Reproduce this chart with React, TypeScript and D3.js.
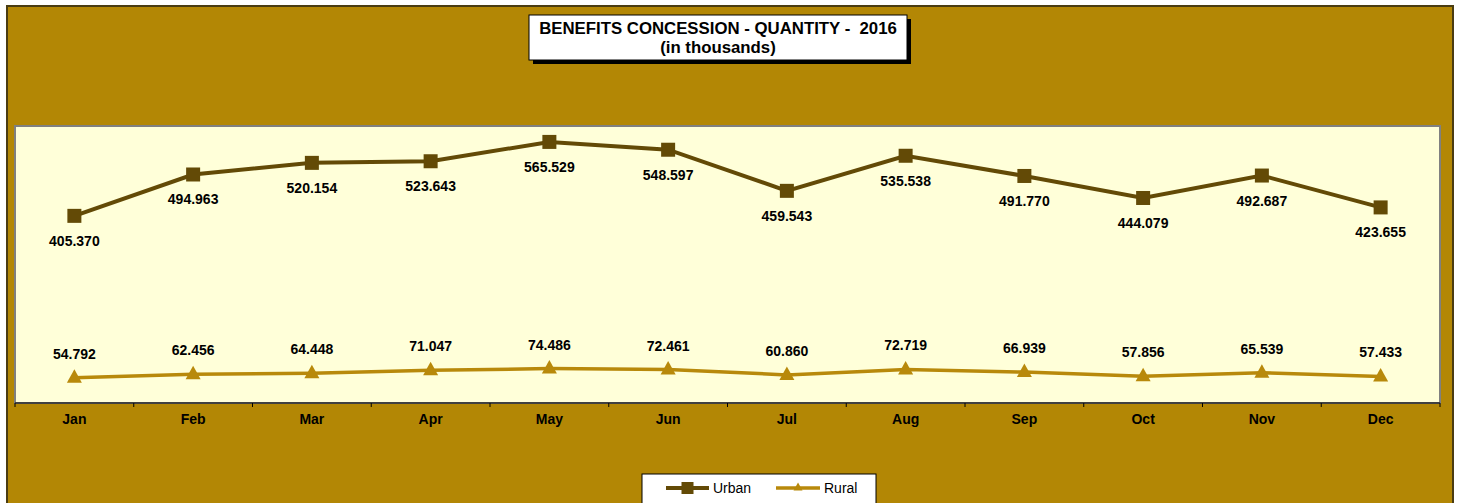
import React from "react";
import * as d3 from "d3";

const months = ["Jan","Feb","Mar","Apr","May","Jun","Jul","Aug","Sep","Oct","Nov","Dec"];
const urban = [405.370,494.963,520.154,523.643,565.529,548.597,459.543,535.538,491.770,444.079,492.687,423.655];
const rural = [54.792,62.456,64.448,71.047,74.486,72.461,60.860,72.719,66.939,57.856,65.539,57.433];
const titleLines = ["BENEFITS CONCESSION - QUANTITY -  2016", "(in thousands)"];

const W = 1459, H = 503;
const plot = { x0: 15, x1: 1440, y0: 126, y1: 403 };
const bg = "#B38705";
const urbanColor = "#634A06";
const ruralColor = "#B8890B";
const font = "Arial, 'Liberation Sans', sans-serif";

export default function App() {
  const x = d3.scaleBand<string>().domain(months).range([plot.x0, plot.x1]);
  const y = d3.scaleLinear().domain([0, 600]).range([plot.y1, plot.y0]);
  const cx = (m: string) => (x(m) as number) + x.bandwidth() / 2;
  const line = d3.line<number>().x((_, i) => cx(months[i])).y(d => y(d));
  const fmt = d3.format(".3f");
  const ticks = d3.range(months.length + 1).map(i => plot.x0 + i * x.bandwidth());
  const tri = (px: number, py: number, s = 7.5) => `M${px},${py - s} L${px + s},${py + s * 0.8} L${px - s},${py + s * 0.8} Z`;

  return (
    <svg width={W} height={H} style={{ position: "absolute", left: 0, top: 0, display: "block" }} fontFamily={font}>
      <rect x={0} y={0} width={W} height={H} fill="#fff" />
      <rect x={7} y={6} width={1446} height={510} fill={bg} stroke="#4A3C12" strokeWidth={2} />
      {/* title */}
      <rect x={533} y={19} width={378} height={45} fill="#000" />
      <rect x={529} y={15} width={378} height={45} fill="#fff" stroke="#000" strokeWidth={1} />
      <text x={718} y={33.5} textAnchor="middle" fontSize={16.8} fontWeight="bold" fill="#000" style={{ whiteSpace: "pre" }}>{titleLines[0]}</text>
      <text x={718} y={52.5} textAnchor="middle" fontSize={16.8} fontWeight="bold" fill="#000">{titleLines[1]}</text>
      {/* plot area */}
      <rect x={plot.x0} y={plot.y0} width={plot.x1 - plot.x0} height={plot.y1 - plot.y0} fill="#FFFFD9" stroke="#808080" strokeWidth={2} />
      <line x1={plot.x0} x2={plot.x1} y1={plot.y1} y2={plot.y1} stroke="#000" strokeWidth={1} />
      {ticks.map((t, i) => (
        <line key={i} x1={t} x2={t} y1={plot.y1} y2={plot.y1 + 4} stroke="#000" strokeWidth={1} />
      ))}
      {months.map(m => (
        <text key={m} x={cx(m)} y={424} textAnchor="middle" fontSize={14} fontWeight="bold" fill="#000">{m}</text>
      ))}
      {/* urban */}
      <path d={line(urban) || ""} fill="none" stroke={urbanColor} strokeWidth={4} />
      {urban.map((v, i) => (
        <g key={i}>
          <rect x={cx(months[i]) - 7} y={y(v) - 7} width={14} height={14} fill={urbanColor} />
          <text x={cx(months[i])} y={y(v) + 30} textAnchor="middle" fontSize={14} fontWeight="bold" fill="#000">{fmt(v)}</text>
        </g>
      ))}
      {/* rural */}
      <path d={line(rural) || ""} fill="none" stroke={ruralColor} strokeWidth={3.5} />
      {rural.map((v, i) => (
        <g key={i}>
          <path d={tri(cx(months[i]), y(v) - 1)} fill={ruralColor} />
          <text x={cx(months[i])} y={y(v) - 19} textAnchor="middle" fontSize={14} fontWeight="bold" fill="#000">{fmt(v)}</text>
        </g>
      ))}
      {/* legend */}
      <rect x={642} y={474} width={234} height={34} fill="#fff" stroke="#000" strokeWidth={1} />
      <line x1={666} x2={709} y1={488} y2={488} stroke={urbanColor} strokeWidth={4} />
      <rect x={681.5} y={482} width={12} height={12} fill={urbanColor} />
      <text x={713} y={493} fontSize={14} fill="#000">Urban</text>
      <line x1={776} x2={820} y1={488} y2={488} stroke={ruralColor} strokeWidth={3.5} />
      <path d={tri(798, 487, 4.5)} fill={ruralColor} />
      <text x={824} y={493} fontSize={14} fill="#000">Rural</text>
    </svg>
  );
}
